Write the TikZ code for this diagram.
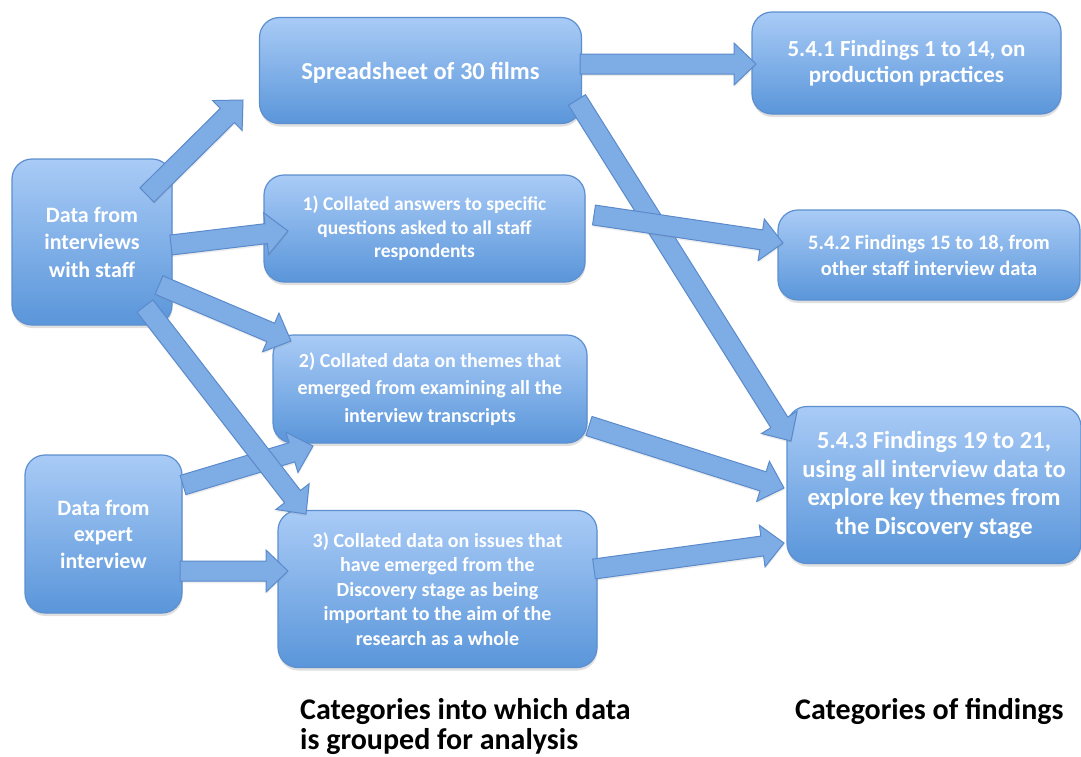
\documentclass[tikz,border=0pt]{standalone}
\usepackage{fontspec}
\setmainfont{Carlito}
\usetikzlibrary{calc,shadows}

\definecolor{boxtop}{HTML}{A9CBF6}
\definecolor{boxbot}{HTML}{5A96DA}
\definecolor{boxline}{HTML}{5C8FCF}
\definecolor{arrfill}{HTML}{7EADE6}
\definecolor{arrline}{HTML}{5A8ACB}

\newcommand\fsz[2]{\bfseries\fontsize{#1}{#2}\selectfont}

% block arrow from #1 to #2 (shaft half width 10, head half width 21, head length 22)
\newcommand\flow[2]{%
  \coordinate (hb) at ($(#2)!22pt!(#1)$);
  \filldraw[flowarrow]
    ($(#1)!10pt!90:(#2)$) -- ($(hb)!10pt!90:(#2)$) -- ($(hb)!21pt!90:(#2)$)
    -- (#2) -- ($(hb)!21pt!-90:(#2)$) -- ($(hb)!10pt!-90:(#2)$)
    -- ($(#1)!10pt!-90:(#2)$) -- cycle;
}

\tikzset{
  stage/.style={rounded corners=20pt, top color=boxtop, bottom color=boxbot,
    draw=boxline, line width=1.2pt, text=white, align=center, inner sep=0pt,
    drop shadow={shadow xshift=0.5pt, shadow yshift=-3pt, opacity=0.25}},
  flowarrow/.style={fill=arrfill, draw=arrline, line width=1pt, line join=miter,
    drop shadow={shadow xshift=0.5pt, shadow yshift=-2pt, opacity=0.15}},
  caption/.style={text=black, align=left, anchor=north west, inner sep=0pt}
}

\begin{document}
\begin{tikzpicture}[x=1pt,y=-1pt]
\useasboundingbox[fill=white] (0,0) rectangle (1081,756);

% sources
\node[stage, minimum width=160pt, minimum height=166pt, font=\fsz{22}{27.5}]
  (staff) at (92,242) {Data from\\interviews\\with staff};
\node[stage, minimum width=157pt, minimum height=158pt, font=\fsz{22}{26.5}]
  (expert) at (103.5,534) {Data from\\expert\\interview};

% categories of data
\node[stage, minimum width=322pt, minimum height=106pt, font=\fsz{24.5}{29}, text depth=0pt]
  (sheet) at (420.5,70.5) {Spreadsheet of 30 films};
\node[stage, minimum width=321pt, minimum height=107pt, font=\fsz{19.5}{23.5}]
  (answers) at (424.5,228.5) {1) Collated answers to specific\\questions asked to all staff\\respondents};
\node[stage, minimum width=314pt, minimum height=108pt, font=\fsz{20}{27.5}]
  (themes) at (430,389) {2) Collated data on themes that\\emerged from examining all the\\interview transcripts};
\node[stage, minimum width=319pt, minimum height=157pt, font=\fsz{20}{24.5}]
  (issues) at (437.5,589) {3) Collated data on issues that\\have emerged from the\\Discovery stage as being\\important to the aim of the\\research as a whole};

% categories of findings
\node[stage, minimum width=309pt, minimum height=102pt, font=\fsz{23}{25.5}]
  (f1) at (906.5,63) {5.4.1 Findings 1 to 14, on\\production practices};
\node[stage, minimum width=302pt, minimum height=90pt, font=\fsz{20.5}{26}]
  (f2) at (929,255) {5.4.2 Findings 15 to 18, from\\other staff interview data};
\node[stage, minimum width=294pt, minimum height=157pt, font=\fsz{24.5}{28.5}]
  (f3) at (934,485) {5.4.3 Findings 19 to 21,\\using all interview data to\\explore key themes from\\the Discovery stage};

% arrow end points
\coordinate (s1) at (147,195);  \coordinate (e1) at (243,100);
\coordinate (s2) at (171,245);  \coordinate (e2) at (288,231);
\coordinate (s3) at (159,285);  \coordinate (e3) at (291,341);
\coordinate (s5) at (183,485);  \coordinate (e5) at (313,446);
\coordinate (s4) at (145,306);  \coordinate (e4) at (306,514);
\coordinate (s6) at (180,571);  \coordinate (e6) at (288,571);
\coordinate (s7) at (580,64);   \coordinate (e7) at (756,64);
\coordinate (s8) at (577,100);  \coordinate (e8) at (791,441);
\coordinate (s9) at (594,215);  \coordinate (e9) at (783,243);
\coordinate (s10) at (589,426); \coordinate (e10) at (784,488);
\coordinate (s11) at (594,569); \coordinate (e11) at (784,543);

\flow{s1}{e1}
\flow{s2}{e2}
\flow{s3}{e3}
\flow{s5}{e5}
\flow{s4}{e4}
\flow{s6}{e6}
\flow{s7}{e7}
\flow{s8}{e8}
\flow{s9}{e9}
\flow{s10}{e10}
\flow{s11}{e11}

% column captions
\node[caption, font=\fsz{30}{30.5}] (capdata) at (300,698)
  {Categories into which data\\is grouped for analysis};
\node[caption, font=\fsz{30}{30.5}] (capfind) at (795,698)
  {Categories of findings};
\end{tikzpicture}
\end{document}
